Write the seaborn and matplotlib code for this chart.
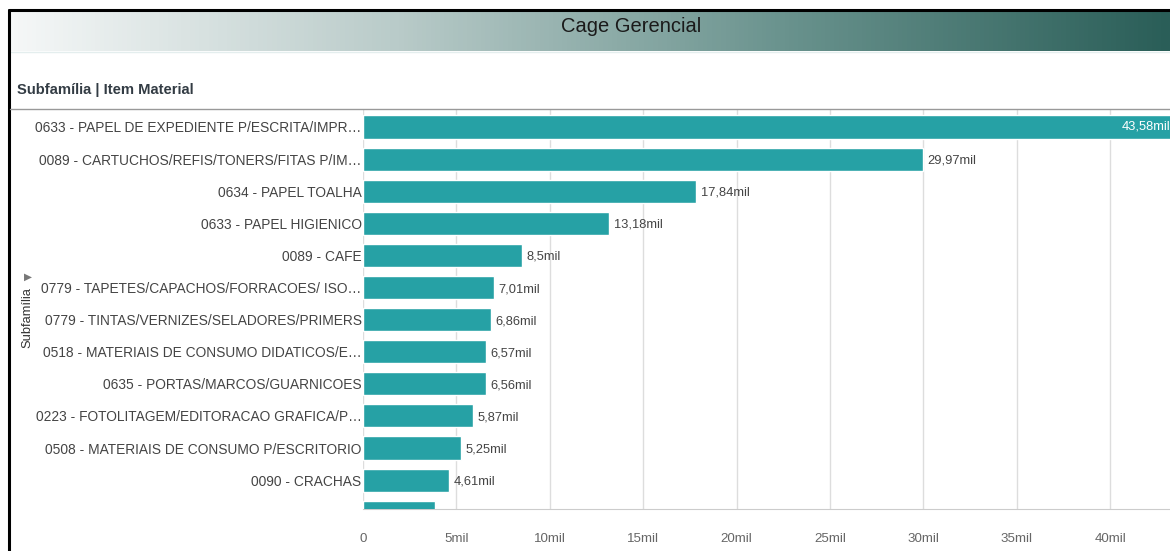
import numpy as np
import seaborn as sns
import matplotlib.pyplot as plt
from matplotlib.lines import Line2D
from matplotlib.colors import LinearSegmentedColormap

sns.set_style("white")
plt.rcParams['font.family'] = ['Liberation Sans', 'DejaVu Sans']

# valores em mil
itens = ["0633 - PAPEL DE EXPEDIENTE P/ESCRITA/IMPR…",
         "0089 - CARTUCHOS/REFIS/TONERS/FITAS P/IM…",
         "0634 - PAPEL TOALHA",
         "0633 - PAPEL HIGIENICO",
         "0089 - CAFE",
         "0779 - TAPETES/CAPACHOS/FORRACOES/ ISO…",
         "0779 - TINTAS/VERNIZES/SELADORES/PRIMERS",
         "0518 - MATERIAIS DE CONSUMO DIDATICOS/E…",
         "0635 - PORTAS/MARCOS/GUARNICOES",
         "0223 - FOTOLITAGEM/EDITORACAO GRAFICA/P…",
         "0508 - MATERIAIS DE CONSUMO P/ESCRITORIO",
         "0090 - CRACHAS",
         "…"]
valores = [43.58, 29.97, 17.84, 13.18, 8.5, 7.01, 6.86, 6.57, 6.56, 5.87, 5.25, 4.61, 3.85]
ticks_x = [0, 5, 10, 15, 20, 25, 30, 35, 40]

W, H = 1170, 551
fig = plt.figure(figsize=(W / 100, H / 100), dpi=100)

def fx(px): return px / W
def fy(py): return 1 - py / H

# cabecalho com degrade
hax = fig.add_axes([fx(9), fy(51), 1 - fx(9), fy(10) - fy(51)])
cmap = LinearSegmentedColormap.from_list("hdr", ["#f6f8f8", "#b9cbc9", "#6a938e", "#2a5e58"])
hax.imshow(np.linspace(0, 1, 256)[None, :], aspect='auto', cmap=cmap, extent=[0, 1, 0, 1])
hax.set_axis_off()
fig.text(fx(631), fy(26), "Cage Gerencial", ha='center', va='center', fontsize=14.5, color='#1a1a1a')
fig.add_artist(Line2D([fx(10), 1], [fy(51.5), fy(51.5)], color='#e4eeee', lw=1))

# bordas
fig.add_artist(Line2D([fx(9), 1], [fy(10), fy(10)], color='black', lw=2.2))
fig.add_artist(Line2D([fx(9), fx(9)], [fy(10), 0], color='black', lw=2.2))
fig.add_artist(Line2D([fx(10), 1], [fy(109), fy(109)], color='#999999', lw=1))

fig.text(fx(17), fy(90), "Subfamília | Item Material", ha='left', va='center',
         fontsize=10.6, fontweight='bold', color='#333c44')
fig.text(fx(27), fy(318), "Subfamília", rotation=90, ha='center', va='center',
         fontsize=9.3, color='#333333')
fig.text(fx(28), fy(277), "▶", ha='center', va='center', fontsize=7.5, color='#777777',
         family=['DejaVu Sans'])

ax = fig.add_axes([fx(363), fy(509), 1 - fx(363), fy(109) - fy(509)])
sns.barplot(x=valores, y=itens, color="#26a1a5", saturation=1, width=0.72, ax=ax, zorder=3)
ax.set_xlim(0, 43.2)
ax.set_ylim(11.9, -0.56)
ax.set_xticks(ticks_x)
ax.set_xticklabels(["0"] + [f"{t}mil" for t in ticks_x[1:]])
ax.grid(axis='x', color='#dddddd', lw=1, zorder=0)
ax.grid(axis='y', visible=False)
for s in ['top', 'right', 'left']:
    ax.spines[s].set_visible(False)
ax.spines['bottom'].set_color('#cccccc')
ax.tick_params(axis='x', length=10, width=1, color='#cccccc', labelsize=9.6,
               labelcolor='#666666', pad=7)
ax.tick_params(axis='y', length=0, labelsize=9.9, labelcolor='#444444', pad=1)
ax.set_xlabel("")
ax.set_ylabel("")

for i, v in enumerate(valores[:12]):
    txt = f"{v:.2f}".rstrip('0').rstrip('.').replace('.', ',') + "mil"
    if i == 0:
        ax.text(43.2, i, txt, ha='right', va='center', fontsize=9.3, color='white', zorder=4)
    else:
        ax.text(v + 0.25, i + 0.05, txt, ha='left', va='center', fontsize=9.3, color='#444444', zorder=4)

fig.savefig("out.png", dpi=100)
